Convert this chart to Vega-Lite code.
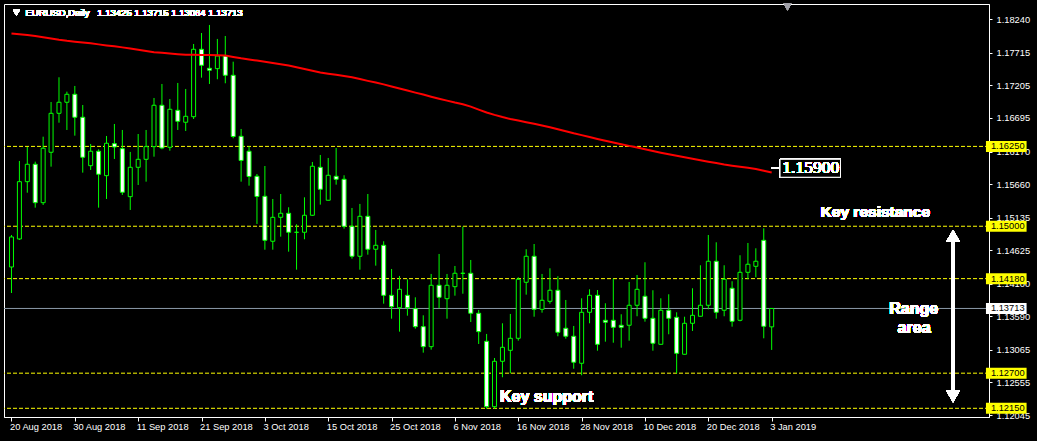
{
  "$schema": "https://vega.github.io/schema/vega-lite/v6.json",
  "width": 985,
  "height": 413,
  "autosize": {"type": "none"},
  "padding": {"left": 4, "top": 4, "right": 48, "bottom": 24},
  "background": "black",
  "config": {"view": {"stroke": "white", "strokeWidth": 1, "fill": "black"}, "font": "Liberation Sans"},
  "resolve": {"axis": {"x": "independent", "y": "independent"}},
  "datasets": {
    "bars": [
      {"i":0,"d":"2018-08-20","o":1.14362,"h":1.14863,"l":1.13955,"c":1.14832,"ma":1.18019},
      {"i":1,"d":"2018-08-21","o":1.14801,"h":1.16022,"l":1.14785,"c":1.15698,"ma":1.18007},
      {"i":2,"d":"2018-08-22","o":1.15698,"h":1.16241,"l":1.15525,"c":1.15970,"ma":1.17993},
      {"i":3,"d":"2018-08-23","o":1.15970,"h":1.16011,"l":1.15291,"c":1.15369,"ma":1.17978},
      {"i":4,"d":"2018-08-24","o":1.15369,"h":1.16402,"l":1.15333,"c":1.16221,"ma":1.17958},
      {"i":5,"d":"2018-08-27","o":1.16158,"h":1.16945,"l":1.15933,"c":1.16768,"ma":1.17939},
      {"i":6,"d":"2018-08-28","o":1.16768,"h":1.17332,"l":1.16621,"c":1.16941,"ma":1.17919},
      {"i":7,"d":"2018-08-29","o":1.16941,"h":1.17107,"l":1.16507,"c":1.17066,"ma":1.17902},
      {"i":8,"d":"2018-08-30","o":1.17066,"h":1.17196,"l":1.16418,"c":1.16706,"ma":1.17889},
      {"i":9,"d":"2018-08-31","o":1.16706,"h":1.16898,"l":1.15839,"c":1.16080,"ma":1.17875},
      {"i":10,"d":"2018-09-03","o":1.15948,"h":1.16288,"l":1.15881,"c":1.16174,"ma":1.17863},
      {"i":11,"d":"2018-09-04","o":1.16174,"h":1.16205,"l":1.15291,"c":1.15814,"ma":1.17847},
      {"i":12,"d":"2018-09-05","o":1.15792,"h":1.16413,"l":1.15427,"c":1.16299,"ma":1.17831},
      {"i":13,"d":"2018-09-06","o":1.16293,"h":1.16601,"l":1.16053,"c":1.16241,"ma":1.17816},
      {"i":14,"d":"2018-09-07","o":1.16214,"h":1.16507,"l":1.15490,"c":1.15532,"ma":1.17800},
      {"i":15,"d":"2018-09-10","o":1.15463,"h":1.16163,"l":1.15255,"c":1.15923,"ma":1.17781},
      {"i":16,"d":"2018-09-11","o":1.15923,"h":1.16444,"l":1.15646,"c":1.16048,"ma":1.17762},
      {"i":17,"d":"2018-09-12","o":1.16048,"h":1.16507,"l":1.15698,"c":1.16246,"ma":1.17742},
      {"i":18,"d":"2018-09-13","o":1.16246,"h":1.17008,"l":1.16089,"c":1.16894,"ma":1.17723},
      {"i":19,"d":"2018-09-14","o":1.16894,"h":1.17227,"l":1.16205,"c":1.16225,"ma":1.17714},
      {"i":20,"d":"2018-09-17","o":1.16236,"h":1.16992,"l":1.16183,"c":1.16831,"ma":1.17703},
      {"i":21,"d":"2018-09-18","o":1.16815,"h":1.17243,"l":1.16507,"c":1.16643,"ma":1.17694},
      {"i":22,"d":"2018-09-19","o":1.16628,"h":1.17149,"l":1.16491,"c":1.16721,"ma":1.17686},
      {"i":23,"d":"2018-09-20","o":1.16715,"h":1.17853,"l":1.16679,"c":1.17770,"ma":1.17683},
      {"i":24,"d":"2018-09-21","o":1.17770,"h":1.18025,"l":1.17326,"c":1.17520,"ma":1.17681},
      {"i":25,"d":"2018-09-24","o":1.17473,"h":1.18151,"l":1.17227,"c":1.17442,"ma":1.17679},
      {"i":26,"d":"2018-09-25","o":1.17467,"h":1.17932,"l":1.17301,"c":1.17665,"ma":1.17678},
      {"i":27,"d":"2018-09-26","o":1.17665,"h":1.17978,"l":1.17238,"c":1.17363,"ma":1.17672},
      {"i":28,"d":"2018-09-27","o":1.17363,"h":1.17576,"l":1.16377,"c":1.16405,"ma":1.17651},
      {"i":29,"d":"2018-09-28","o":1.16408,"h":1.16523,"l":1.15698,"c":1.16030,"ma":1.17629},
      {"i":30,"d":"2018-10-01","o":1.16174,"h":1.16252,"l":1.15635,"c":1.15779,"ma":1.17611},
      {"i":31,"d":"2018-10-02","o":1.15782,"h":1.15818,"l":1.15036,"c":1.15466,"ma":1.17593},
      {"i":32,"d":"2018-10-03","o":1.15469,"h":1.15943,"l":1.14633,"c":1.14780,"ma":1.17575},
      {"i":33,"d":"2018-10-04","o":1.14765,"h":1.15427,"l":1.14633,"c":1.15140,"ma":1.17556},
      {"i":34,"d":"2018-10-05","o":1.15140,"h":1.15505,"l":1.14837,"c":1.15203,"ma":1.17537},
      {"i":35,"d":"2018-10-08","o":1.15203,"h":1.15297,"l":1.14602,"c":1.14906,"ma":1.17515},
      {"i":36,"d":"2018-10-09","o":1.14906,"h":1.15031,"l":1.14320,"c":1.14905,"ma":1.17488},
      {"i":37,"d":"2018-10-10","o":1.14906,"h":1.15453,"l":1.14796,"c":1.15172,"ma":1.17460},
      {"i":38,"d":"2018-10-11","o":1.15172,"h":1.16006,"l":1.15161,"c":1.15939,"ma":1.17434},
      {"i":39,"d":"2018-10-12","o":1.15923,"h":1.16116,"l":1.15338,"c":1.15579,"ma":1.17407},
      {"i":40,"d":"2018-10-15","o":1.15407,"h":1.16069,"l":1.15404,"c":1.15798,"ma":1.17388},
      {"i":41,"d":"2018-10-16","o":1.15782,"h":1.16225,"l":1.15651,"c":1.15735,"ma":1.17370},
      {"i":42,"d":"2018-10-17","o":1.15735,"h":1.15798,"l":1.14962,"c":1.14999,"ma":1.17351},
      {"i":43,"d":"2018-10-18","o":1.14999,"h":1.15286,"l":1.14492,"c":1.14530,"ma":1.17332},
      {"i":44,"d":"2018-10-19","o":1.14530,"h":1.15349,"l":1.14320,"c":1.15156,"ma":1.17304},
      {"i":45,"d":"2018-10-22","o":1.15156,"h":1.15505,"l":1.14555,"c":1.14640,"ma":1.17276},
      {"i":46,"d":"2018-10-23","o":1.14640,"h":1.14942,"l":1.14383,"c":1.14702,"ma":1.17249},
      {"i":47,"d":"2018-10-24","o":1.14702,"h":1.14765,"l":1.13788,"c":1.13919,"ma":1.17221},
      {"i":48,"d":"2018-10-25","o":1.13919,"h":1.14331,"l":1.13553,"c":1.13741,"ma":1.17189},
      {"i":49,"d":"2018-10-26","o":1.13725,"h":1.14222,"l":1.13350,"c":1.14013,"ma":1.17157},
      {"i":50,"d":"2018-10-29","o":1.13919,"h":1.14170,"l":1.13600,"c":1.13725,"ma":1.17125},
      {"i":51,"d":"2018-10-30","o":1.13710,"h":1.13888,"l":1.13397,"c":1.13428,"ma":1.17092},
      {"i":52,"d":"2018-10-31","o":1.13428,"h":1.13606,"l":1.13021,"c":1.13115,"ma":1.17061},
      {"i":53,"d":"2018-11-01","o":1.13115,"h":1.14253,"l":1.13068,"c":1.14076,"ma":1.17028},
      {"i":54,"d":"2018-11-02","o":1.14076,"h":1.14566,"l":1.13716,"c":1.13888,"ma":1.16997},
      {"i":55,"d":"2018-11-05","o":1.13866,"h":1.14253,"l":1.13553,"c":1.14076,"ma":1.16966},
      {"i":56,"d":"2018-11-06","o":1.14054,"h":1.14378,"l":1.13913,"c":1.14264,"ma":1.16936},
      {"i":57,"d":"2018-11-07","o":1.14264,"h":1.14993,"l":1.13944,"c":1.14263,"ma":1.16909},
      {"i":58,"d":"2018-11-08","o":1.14264,"h":1.14472,"l":1.13501,"c":1.13638,"ma":1.16873},
      {"i":59,"d":"2018-11-09","o":1.13638,"h":1.13689,"l":1.13157,"c":1.13350,"ma":1.16826},
      {"i":60,"d":"2018-11-12","o":1.13199,"h":1.13314,"l":1.12144,"c":1.12176,"ma":1.16781},
      {"i":61,"d":"2018-11-13","o":1.12176,"h":1.12938,"l":1.12144,"c":1.12886,"ma":1.16743},
      {"i":62,"d":"2018-11-14","o":1.12886,"h":1.13481,"l":1.12636,"c":1.13105,"ma":1.16709},
      {"i":63,"d":"2018-11-15","o":1.13058,"h":1.13627,"l":1.12698,"c":1.13246,"ma":1.16678},
      {"i":64,"d":"2018-11-16","o":1.13246,"h":1.14201,"l":1.13209,"c":1.14170,"ma":1.16654},
      {"i":65,"d":"2018-11-19","o":1.14123,"h":1.14640,"l":1.13929,"c":1.14530,"ma":1.16629},
      {"i":66,"d":"2018-11-20","o":1.14530,"h":1.14722,"l":1.13584,"c":1.13700,"ma":1.16603},
      {"i":67,"d":"2018-11-21","o":1.13700,"h":1.14253,"l":1.13647,"c":1.13841,"ma":1.16577},
      {"i":68,"d":"2018-11-22","o":1.13825,"h":1.14342,"l":1.13788,"c":1.13998,"ma":1.16549},
      {"i":69,"d":"2018-11-23","o":1.13998,"h":1.14217,"l":1.13278,"c":1.13340,"ma":1.16518},
      {"i":70,"d":"2018-11-26","o":1.13403,"h":1.13846,"l":1.13240,"c":1.13278,"ma":1.16487},
      {"i":71,"d":"2018-11-27","o":1.13278,"h":1.13439,"l":1.12770,"c":1.12871,"ma":1.16455},
      {"i":72,"d":"2018-11-28","o":1.12855,"h":1.13872,"l":1.12667,"c":1.13653,"ma":1.16426},
      {"i":73,"d":"2018-11-29","o":1.13653,"h":1.14013,"l":1.13481,"c":1.13919,"ma":1.16396},
      {"i":74,"d":"2018-11-30","o":1.13919,"h":1.14002,"l":1.13052,"c":1.13152,"ma":1.16366},
      {"i":75,"d":"2018-12-03","o":1.13528,"h":1.13794,"l":1.13193,"c":1.13497,"ma":1.16338},
      {"i":76,"d":"2018-12-04","o":1.13528,"h":1.14179,"l":1.13177,"c":1.13418,"ma":1.16311},
      {"i":77,"d":"2018-12-05","o":1.13450,"h":1.13622,"l":1.13099,"c":1.13418,"ma":1.16285},
      {"i":78,"d":"2018-12-06","o":1.13450,"h":1.14128,"l":1.13209,"c":1.13763,"ma":1.16258},
      {"i":79,"d":"2018-12-07","o":1.13763,"h":1.14237,"l":1.13591,"c":1.14013,"ma":1.16232},
      {"i":80,"d":"2018-12-10","o":1.13904,"h":1.14436,"l":1.13506,"c":1.13559,"ma":1.16205},
      {"i":81,"d":"2018-12-11","o":1.13559,"h":1.13998,"l":1.13052,"c":1.13168,"ma":1.16178},
      {"i":82,"d":"2018-12-12","o":1.13152,"h":1.13872,"l":1.13149,"c":1.13685,"ma":1.16152},
      {"i":83,"d":"2018-12-13","o":1.13685,"h":1.13935,"l":1.13309,"c":1.13559,"ma":1.16128},
      {"i":84,"d":"2018-12-14","o":1.13575,"h":1.13653,"l":1.12698,"c":1.13011,"ma":1.16103},
      {"i":85,"d":"2018-12-17","o":1.12996,"h":1.13584,"l":1.12993,"c":1.13481,"ma":1.16080},
      {"i":86,"d":"2018-12-18","o":1.13481,"h":1.14029,"l":1.13361,"c":1.13606,"ma":1.16056},
      {"i":87,"d":"2018-12-19","o":1.13591,"h":1.14389,"l":1.13588,"c":1.13763,"ma":1.16034},
      {"i":88,"d":"2018-12-20","o":1.13763,"h":1.14863,"l":1.13700,"c":1.14452,"ma":1.16011},
      {"i":89,"d":"2018-12-21","o":1.14452,"h":1.14749,"l":1.13553,"c":1.13653,"ma":1.15989},
      {"i":90,"d":"2018-12-24","o":1.13685,"h":1.14389,"l":1.13591,"c":1.14170,"ma":1.15965},
      {"i":91,"d":"2018-12-26","o":1.14029,"h":1.14139,"l":1.13428,"c":1.13512,"ma":1.15948},
      {"i":92,"d":"2018-12-27","o":1.13528,"h":1.14546,"l":1.13512,"c":1.14279,"ma":1.15931},
      {"i":93,"d":"2018-12-28","o":1.14279,"h":1.14738,"l":1.14170,"c":1.14405,"ma":1.15914},
      {"i":94,"d":"2018-12-31","o":1.14373,"h":1.14655,"l":1.14201,"c":1.14452,"ma":1.15897},
      {"i":95,"d":"2019-01-02","o":1.14780,"h":1.14968,"l":1.13246,"c":1.13434,"ma":1.15870},
      {"i":96,"d":"2019-01-03","o":1.13425,"h":1.13715,"l":1.13064,"c":1.13713,"ma":1.15840}
    ],
    "levels": [{"p":1.1625},{"p":1.15},{"p":1.1418},{"p":1.127},{"p":1.1215}],
    "bid": [{"p":1.13713}]
  },
  "data": {"name": "bars"},
  "layer": [
    {
      "data": {"name": "levels"},
      "mark": {"type": "rule", "color": "#FFFF00", "strokeDash": [4, 2], "strokeWidth": 1},
      "encoding": {
        "y": {"field": "p", "type": "quantitative", "scale": {"domain": [1.12014, 1.18479], "nice": false, "zero": false},
          "axis": {"orient": "right", "values": [1.1824, 1.17715, 1.17205, 1.16695, 1.1617, 1.1566, 1.15135, 1.14625, 1.141, 1.1359, 1.13065, 1.12555, 1.12045],
            "format": ".5f", "title": null, "grid": false, "domainColor": "white", "tickColor": "white", "tickSize": 3,
            "labelColor": "white", "labelFont": "Liberation Sans", "labelFontSize": 9.3, "labelPadding": 4, "labelAlign": "left",
            "labelBaseline": "middle", "labelOverlap": false, "labelFlush": false}}
      }
    },
    {
      "data": {"name": "bid"},
      "mark": {"type": "rule", "color": "#8A99A8", "strokeWidth": 1},
      "encoding": {"y": {"field": "p", "type": "quantitative", "scale": {"domain": [1.12014, 1.18479], "nice": false, "zero": false}, "axis": null}}
    },
    {
      "mark": {"type": "rule", "color": "#00FF00", "strokeWidth": 1},
      "encoding": {
        "x": {"field": "i", "type": "quantitative", "scale": {"domain": [-0.3125, 122.8125], "nice": false, "zero": false},
          "axis": {"values": [0, 8, 16, 24, 32, 40, 48, 56, 64, 72, 80, 88, 96],
            "labelExpr": "['20 Aug 2018','30 Aug 2018','11 Sep 2018','21 Sep 2018','3 Oct 2018','15 Oct 2018','25 Oct 2018','6 Nov 2018','16 Nov 2018','28 Nov 2018','10 Dec 2018','20 Dec 2018','3 Jan 2019'][round(datum.value/8)]",
            "title": null, "grid": false, "domainColor": "white", "tickColor": "white", "tickSize": 4, "labelColor": "white",
            "labelFont": "Liberation Sans", "labelFontSize": 9.3, "labelAlign": "left", "labelPadding": 1, "labelOffset": -2, "labelFlush": false, "labelOverlap": false}},
        "y": {"field": "l", "type": "quantitative", "scale": {"domain": [1.12014, 1.18479], "nice": false, "zero": false}, "axis": null},
        "y2": {"field": "h"}
      }
    },
    {
      "mark": {"type": "bar", "size": 4, "stroke": "#00FF00", "strokeWidth": 1},
      "encoding": {
        "x": {"field": "i", "type": "quantitative", "scale": {"domain": [-0.3125, 122.8125], "nice": false, "zero": false}, "axis": null},
        "y": {"field": "o", "type": "quantitative", "scale": {"domain": [1.12014, 1.18479], "nice": false, "zero": false}, "axis": null},
        "y2": {"field": "c"},
        "fill": {"condition": {"test": "datum.c >= datum.o", "value": "black"}, "value": "white"}
      }
    },
    {
      "mark": {"type": "line", "color": "#FF0000", "strokeWidth": 2},
      "encoding": {
        "x": {"field": "i", "type": "quantitative", "scale": {"domain": [-0.3125, 122.8125], "nice": false, "zero": false}, "axis": null},
        "y": {"field": "ma", "type": "quantitative", "scale": {"domain": [1.12014, 1.18479], "nice": false, "zero": false}, "axis": null}
      }
    },
    {
      "mark": {"type": "rule", "color": "white", "strokeWidth": 1},
      "encoding": {
        "x": {"datum": 95.94, "type": "quantitative", "scale": {"domain": [-0.3125, 122.8125], "nice": false, "zero": false}, "axis": null},
        "x2": {"datum": 97.06},
        "y": {"datum": 1.15913, "type": "quantitative", "scale": {"domain": [1.12014, 1.18479], "nice": false, "zero": false}, "axis": null}
      }
    },
    {
      "mark": {"type": "rect", "fill": "black", "stroke": "white", "strokeWidth": 1},
      "encoding": {
        "x": {"datum": 97.06, "type": "quantitative", "scale": {"domain": [-0.3125, 122.8125], "nice": false, "zero": false}, "axis": null},
        "x2": {"datum": 104.69},
        "y": {"datum": 1.16048, "type": "quantitative", "scale": {"domain": [1.12014, 1.18479], "nice": false, "zero": false}, "axis": null},
        "y2": {"datum": 1.15767}
      }
    },
    {
      "mark": {"type": "text", "text": "1.15900", "font": "Liberation Serif", "fontSize": 17.5, "color": "white", "align": "center", "baseline": "middle"},
      "encoding": {
        "x": {"datum": 100.94, "type": "quantitative", "scale": {"domain": [-0.3125, 122.8125], "nice": false, "zero": false}, "axis": null},
        "y": {"datum": 1.15907, "type": "quantitative", "scale": {"domain": [1.12014, 1.18479], "nice": false, "zero": false}, "axis": null}
      }
    },
    {
      "mark": {"type": "text", "text": "Key resistance", "font": "Liberation Sans", "fontWeight": "bold", "fontSize": 15.5, "color": "white", "align": "center", "baseline": "middle"},
      "encoding": {
        "x": {"datum": 109.09, "type": "quantitative", "scale": {"domain": [-0.3125, 122.8125], "nice": false, "zero": false}, "axis": null},
        "y": {"datum": 1.15219, "type": "quantitative", "scale": {"domain": [1.12014, 1.18479], "nice": false, "zero": false}, "axis": null}
      }
    },
    {
      "mark": {"type": "text", "text": "Range", "font": "Liberation Sans", "fontWeight": "bold", "fontSize": 16, "color": "white", "align": "center", "baseline": "middle"},
      "encoding": {
        "x": {"datum": 113.94, "type": "quantitative", "scale": {"domain": [-0.3125, 122.8125], "nice": false, "zero": false}, "axis": null},
        "y": {"datum": 1.13705, "type": "quantitative", "scale": {"domain": [1.12014, 1.18479], "nice": false, "zero": false}, "axis": null}
      }
    },
    {
      "mark": {"type": "text", "text": "area", "font": "Liberation Sans", "fontWeight": "bold", "fontSize": 16, "color": "white", "align": "center", "baseline": "middle"},
      "encoding": {
        "x": {"datum": 113.98, "type": "quantitative", "scale": {"domain": [-0.3125, 122.8125], "nice": false, "zero": false}, "axis": null},
        "y": {"datum": 1.13412, "type": "quantitative", "scale": {"domain": [1.12014, 1.18479], "nice": false, "zero": false}, "axis": null}
      }
    },
    {
      "mark": {"type": "text", "text": "Key support", "font": "Liberation Sans", "fontWeight": "bold", "fontSize": 16, "color": "white", "align": "left", "baseline": "middle"},
      "encoding": {
        "x": {"datum": 61.69, "type": "quantitative", "scale": {"domain": [-0.3125, 122.8125], "nice": false, "zero": false}, "axis": null},
        "y": {"datum": 1.12327, "type": "quantitative", "scale": {"domain": [1.12014, 1.18479], "nice": false, "zero": false}, "axis": null}
      }
    },
    {
      "mark": {"type": "rule", "color": "white", "strokeWidth": 3.5},
      "encoding": {
        "x": {"datum": 118.9, "type": "quantitative", "scale": {"domain": [-0.3125, 122.8125], "nice": false, "zero": false}, "axis": null},
        "y": {"datum": 1.14848, "type": "quantitative", "scale": {"domain": [1.12014, 1.18479], "nice": false, "zero": false}, "axis": null},
        "y2": {"datum": 1.12338}
      }
    },
    {
      "mark": {"type": "point", "shape": "triangle-up", "filled": true, "color": "white", "opacity": 1, "size": 196},
      "encoding": {
        "x": {"datum": 118.9, "type": "quantitative", "scale": {"domain": [-0.3125, 122.8125], "nice": false, "zero": false}, "axis": null},
        "y": {"datum": 1.14848, "type": "quantitative", "scale": {"domain": [1.12014, 1.18479], "nice": false, "zero": false}, "axis": null}
      }
    },
    {
      "mark": {"type": "point", "shape": "triangle-down", "filled": true, "color": "white", "opacity": 1, "size": 196},
      "encoding": {
        "x": {"datum": 118.9, "type": "quantitative", "scale": {"domain": [-0.3125, 122.8125], "nice": false, "zero": false}, "axis": null},
        "y": {"datum": 1.12338, "type": "quantitative", "scale": {"domain": [1.12014, 1.18479], "nice": false, "zero": false}, "axis": null}
      }
    },
    {
      "mark": {"type": "point", "shape": "triangle-down", "filled": true, "color": "white", "opacity": 1, "size": 49},
      "encoding": {
        "x": {"datum": 0.625, "type": "quantitative", "scale": {"domain": [-0.3125, 122.8125], "nice": false, "zero": false}, "axis": null},
        "y": {"datum": 1.18343, "type": "quantitative", "scale": {"domain": [1.12014, 1.18479], "nice": false, "zero": false}, "axis": null}
      }
    },
    {
      "mark": {"type": "text", "text": "EURUSD,Daily\u00a0\u00a0 1.13425 1.13715 1.13064 1.13713", "font": "Liberation Sans", "fontSize": 9.5, "color": "white", "align": "left", "baseline": "middle"},
      "encoding": {
        "x": {"datum": 1.775, "type": "quantitative", "scale": {"domain": [-0.3125, 122.8125], "nice": false, "zero": false}, "axis": null},
        "y": {"datum": 1.18343, "type": "quantitative", "scale": {"domain": [1.12014, 1.18479], "nice": false, "zero": false}, "axis": null}
      }
    },
    {
      "mark": {"type": "point", "shape": "triangle-down", "filled": true, "color": "#A0A0A8", "opacity": 1, "size": 53},
      "encoding": {
        "x": {"datum": 98.0, "type": "quantitative", "scale": {"domain": [-0.3125, 122.8125], "nice": false, "zero": false}, "axis": null},
        "y": {"datum": 1.18432, "type": "quantitative", "scale": {"domain": [1.12014, 1.18479], "nice": false, "zero": false}, "axis": null}
      }
    },
    {
      "data": {"name": "levels"},
      "mark": {"type": "rule", "color": "#FFFF00", "strokeWidth": 11},
      "encoding": {
        "x": {"datum": 123.06, "type": "quantitative", "scale": {"domain": [-0.3125, 122.8125], "nice": false, "zero": false}, "axis": null},
        "x2": {"datum": 128.19},
        "y": {"field": "p", "type": "quantitative", "scale": {"domain": [1.12014, 1.18479], "nice": false, "zero": false}, "axis": null}
      }
    },
    {
      "data": {"name": "levels"},
      "mark": {"type": "text", "font": "Liberation Sans", "fontSize": 9.3, "color": "black", "align": "left", "baseline": "middle"},
      "encoding": {
        "x": {"datum": 123.69, "type": "quantitative", "scale": {"domain": [-0.3125, 122.8125], "nice": false, "zero": false}, "axis": null},
        "y": {"field": "p", "type": "quantitative", "scale": {"domain": [1.12014, 1.18479], "nice": false, "zero": false}, "axis": null},
        "text": {"field": "p", "type": "quantitative", "format": ".5f"}
      }
    },
    {
      "data": {"name": "bid"},
      "mark": {"type": "rule", "color": "white", "strokeWidth": 11},
      "encoding": {
        "x": {"datum": 123.06, "type": "quantitative", "scale": {"domain": [-0.3125, 122.8125], "nice": false, "zero": false}, "axis": null},
        "x2": {"datum": 128.19},
        "y": {"field": "p", "type": "quantitative", "scale": {"domain": [1.12014, 1.18479], "nice": false, "zero": false}, "axis": null}
      }
    },
    {
      "data": {"name": "bid"},
      "mark": {"type": "text", "font": "Liberation Sans", "fontSize": 9.3, "color": "black", "align": "left", "baseline": "middle"},
      "encoding": {
        "x": {"datum": 123.69, "type": "quantitative", "scale": {"domain": [-0.3125, 122.8125], "nice": false, "zero": false}, "axis": null},
        "y": {"field": "p", "type": "quantitative", "scale": {"domain": [1.12014, 1.18479], "nice": false, "zero": false}, "axis": null},
        "text": {"field": "p", "type": "quantitative", "format": ".5f"}
      }
    }
  ]
}
